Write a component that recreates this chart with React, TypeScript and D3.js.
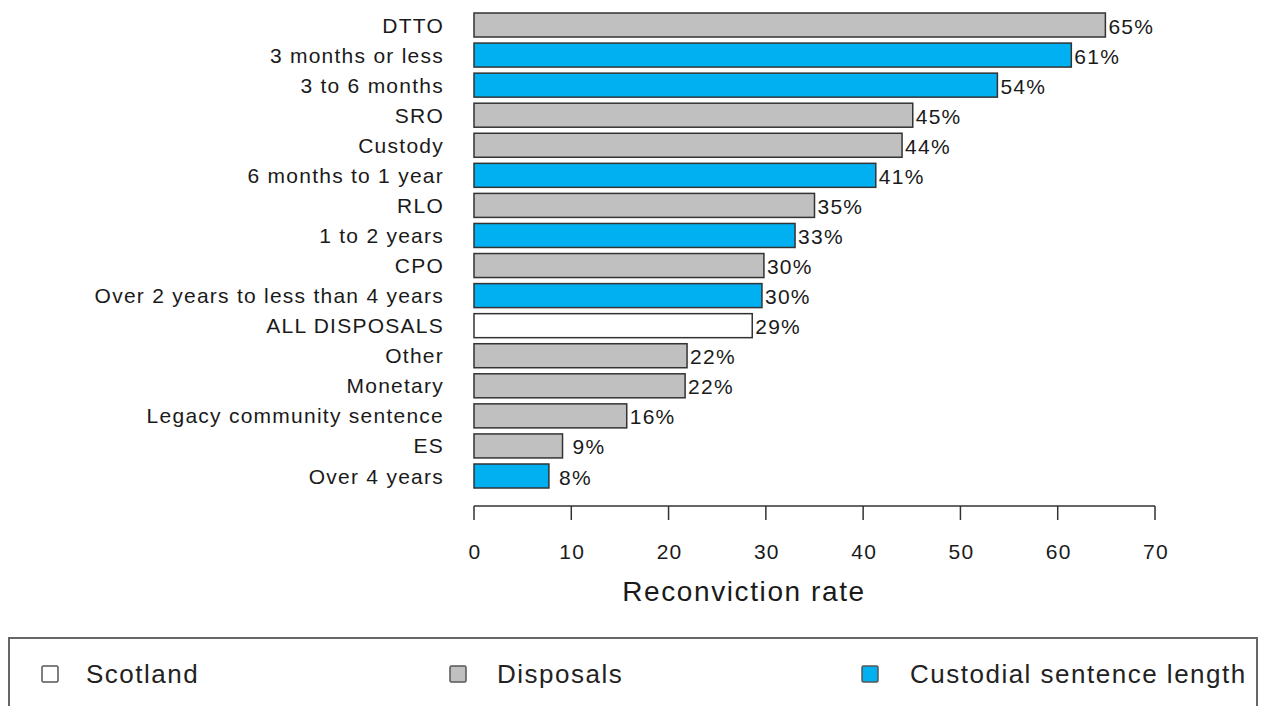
import React from "react";
import * as d3 from "d3";

const categories = [
  "DTTO",
  "3 months or less",
  "3 to 6 months",
  "SRO",
  "Custody",
  "6 months to 1 year",
  "RLO",
  "1 to 2 years",
  "CPO",
  "Over 2 years to less than 4 years",
  "ALL DISPOSALS",
  "Other",
  "Monetary",
  "Legacy community sentence",
  "ES",
  "Over 4 years",
];
const values = [64.9, 61.4, 53.8, 45.1, 44.0, 41.3, 35.0, 33.0, 29.8, 29.6, 28.6, 21.9, 21.7, 15.7, 9.1, 7.7];
const groups = [
  "Disposals",
  "Custodial sentence length",
  "Custodial sentence length",
  "Disposals",
  "Disposals",
  "Custodial sentence length",
  "Disposals",
  "Custodial sentence length",
  "Disposals",
  "Custodial sentence length",
  "Scotland",
  "Disposals",
  "Disposals",
  "Disposals",
  "Disposals",
  "Custodial sentence length",
];
const legendItems = ["Scotland", "Disposals", "Custodial sentence length"];
const xTicks = [0, 10, 20, 30, 40, 50, 60, 70];
const axisTitle = "Reconviction rate";

const colorOf: Record<string, string> = {
  Scotland: "#ffffff",
  Disposals: "#c0c0c0",
  "Custodial sentence length": "#00b0f0",
};

export default function App() {
  const W = 1264;
  const H = 706;
  const x = d3.scaleLinear().domain([0, 70]).range([474, 1155]);
  const y = d3.scalePoint<string>().domain(categories).range([25, 476]);
  const barH = 24;
  const font = "Arial, 'Liberation Sans', sans-serif";
  const legendSq = [50, 458, 870];
  const legendTx = [86, 497, 910];
  const ls = 1.25;

  return (
    <svg
      width={W}
      height={H}
      style={{ position: "absolute", left: 0, top: 0, background: "#fff" }}
      fontFamily={font}
    >
      {categories.map((c, i) => {
        const cy = y(c)!;
        const v = values[i];
        const label = `${Math.round(v)}%`.padStart(3, " ");
        return (
          <g key={c}>
            <rect
              x={x(0)}
              y={cy - barH / 2}
              width={x(v) - x(0)}
              height={barH}
              fill={colorOf[groups[i]]}
              stroke="#333"
              strokeWidth={1.5}
            />
            <text
              x={444}
              y={cy}
              textAnchor="end"
              dominantBaseline="central"
              fontSize={21}
              letterSpacing={ls}
              fill="#1a1a1a"
            >
              {c}
            </text>
            <text
              x={x(v) + 3}
              y={cy + 1}
              dominantBaseline="central"
              fontSize={21}
              letterSpacing={ls}
              fill="#1a1a1a"
              style={{ whiteSpace: "pre" }}
            >
              {label}
            </text>
          </g>
        );
      })}
      <line x1={x(0)} x2={x(70)} y1={506} y2={506} stroke="#333" strokeWidth={1.5} />
      {xTicks.map((t) => (
        <g key={t}>
          <line x1={x(t)} x2={x(t)} y1={506} y2={520} stroke="#333" strokeWidth={1.5} />
          <text
            x={x(t) + 1}
            y={551}
            textAnchor="middle"
            dominantBaseline="central"
            fontSize={21}
            letterSpacing={ls}
            fill="#1a1a1a"
          >
            {t}
          </text>
        </g>
      ))}
      <text
        x={744}
        y={591}
        textAnchor="middle"
        dominantBaseline="central"
        fontSize={28}
        letterSpacing={1.6}
        fill="#1a1a1a"
      >
        {axisTitle}
      </text>
      <rect x={9} y={638} width={1248} height={90} fill="none" stroke="#666" strokeWidth={2} />
      {legendItems.map((l, i) => (
        <g key={l}>
          <rect
            x={legendSq[i] - 8}
            y={666}
            width={16}
            height={16}
            fill={colorOf[l]}
            stroke="#555"
            strokeWidth={1.5}
            rx={1.5}
          />
          <text
            x={legendTx[i]}
            y={674}
            dominantBaseline="central"
            fontSize={26}
            letterSpacing={1.5}
            fill="#222"
          >
            {l}
          </text>
        </g>
      ))}
    </svg>
  );
}
